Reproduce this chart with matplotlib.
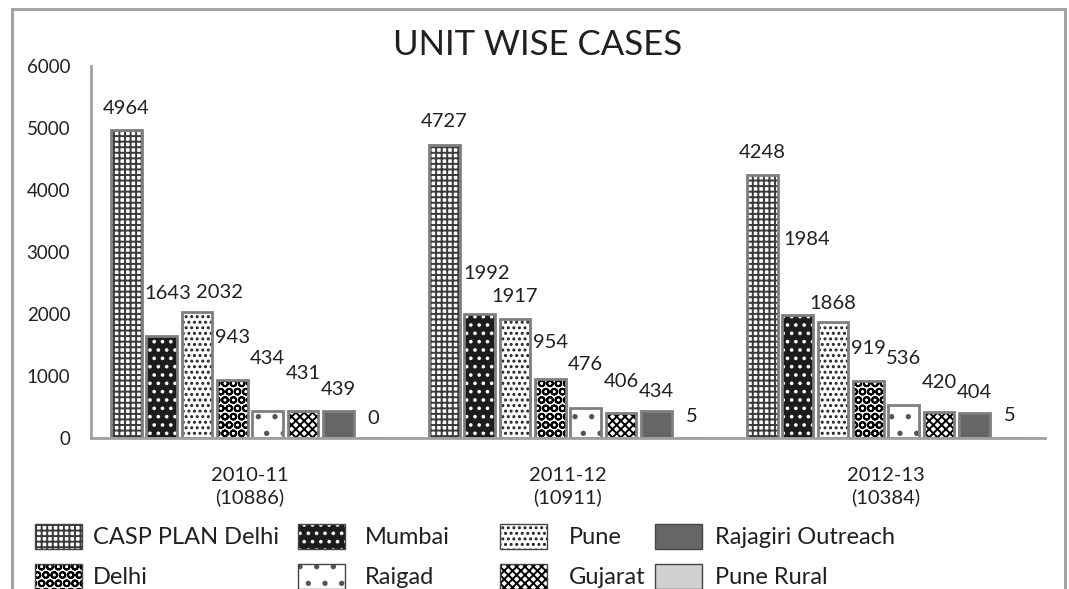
import numpy as np
import matplotlib
matplotlib.use("Agg")
import matplotlib.pyplot as plt
import matplotlib.patches as mpatches
from matplotlib.legend_handler import HandlerTuple

plt.rcParams['font.family'] = ['Lato', 'DejaVu Sans']
plt.rcParams['hatch.linewidth'] = 1.4

years = ['2010-11\n(10886)', '2011-12\n(10911)', '2012-13\n(10384)']
series = ['CASP PLAN Delhi', 'Mumbai', 'Pune', 'Delhi', 'Raigad', 'Gujarat',
          'Rajagiri Outreach', 'Pune Rural']

casp_plan_delhi = [4964, 4727, 4248]
mumbai = [1643, 1992, 1984]
pune = [2032, 1917, 1868]
delhi = [943, 954, 919]
raigad = [434, 476, 536]
gujarat = [431, 406, 420]
rajagiri = [439, 434, 404]
pune_rural = [0, 5, 5]

values = [casp_plan_delhi, mumbai, pune, delhi, raigad, gujarat, rajagiri, pune_rural]

# fill colour, hatch colour, hatch pattern
styles = [
    ('white', '#3a3a3a', '+++'),
    ('#1c1c1c', 'white', '..'),
    ('white', '#222222', '...'),
    ('white', 'black', 'OO'),
    ('white', '#555555', '.'),
    ('white', 'black', 'xxxx'),
    ('#666666', '#666666', None),
    ('#d0d1d3', '#d0d1d3', None),
]

# label placement (pixels above bar top, pixels right of bar centre)
label_dy = [[22, 43, 20, 42, 53, 38, 21, 20],
            [23, 41, 23, 36, 44, 31, 20, 21],
            [22, 75, 19, 33, 46, 29, 20, 22]]
label_dx = [[0, 6, 22, 0, 0, 0, 0, 0],
            [0, 7, 0, 0, 0, 0, 0, 0],
            [0, 9, 0, 0, 0, 0, 0, 0]]

W, H = 1069, 589
fig = plt.figure(figsize=(W / 100, H / 100), dpi=100)
ax = fig.add_axes([91 / W, 1 - 438 / H, (1045 - 91) / W, (438 - 66) / H])

txt = '#231f20'
edge = '#7f7f7f'
x = np.arange(len(years))
pitch = 0.111
bw = 0.097

handles = []
for i, (name, vals) in enumerate(zip(series, values)):
    fc, hc, hatch = styles[i]
    xs = x + (i - 3.5) * pitch
    ax.bar(xs, vals, bw, color=fc, edgecolor=hc, hatch=hatch, linewidth=0)
    ax.bar(xs, vals, bw, fill=False, edgecolor=edge, linewidth=2)
    for j, v in enumerate(vals):
        ax.annotate(str(v), (xs[j], v), xytext=(label_dx[j][i], label_dy[j][i]),
                    textcoords='offset pixels', ha='center', va='center',
                    fontsize=14.5, color=txt)
    p1 = mpatches.Patch(facecolor=fc, edgecolor=hc, hatch=hatch, linewidth=0)
    p2 = mpatches.Patch(fill=False, edgecolor='#444444', linewidth=1)
    handles.append((p1, p2))

ax.set_xlim(-0.5, 2.5)
ax.set_ylim(0, 6000)
ax.set_yticks(np.arange(0, 6001, 1000))
ax.set_xticks(x)
ax.set_xticklabels(years, linespacing=1.3)
ax.tick_params(axis='both', length=0, colors=txt, labelsize=13.5)
ax.tick_params(axis='y', pad=15)
ax.tick_params(axis='x', pad=21, labelsize=14.5)
for s in ['top', 'right']:
    ax.spines[s].set_visible(False)
for s in ['left', 'bottom']:
    ax.spines[s].set_color('#a0a0a0')
    ax.spines[s].set_linewidth(2)

fig.text(0.503, 1 - 55 / H, 'UNIT WISE CASES', ha='center', va='baseline',
         fontsize=25, color=txt)

# legend, one column at a time
cols = [(35, [0, 3], 0.45), (298, [1, 4], 0.85), (500, [2, 5], 0.9), (655, [6, 7], 0.55)]
for left, idx, pad in cols:
    lg = fig.legend([handles[k] for k in idx], [series[k] for k in idx],
                    handler_map={tuple: HandlerTuple(ndivide=1)},
                    loc='upper left', bbox_to_anchor=(left / W, 1 - 524 / H),
                    frameon=False, fontsize=17, handlelength=2.0, handleheight=1.25,
                    handletextpad=pad, labelspacing=0.62, borderpad=0,
                    borderaxespad=0)
    for t in lg.get_texts():
        t.set_color(txt)

# outer frame
fig.add_artist(mpatches.Rectangle((12 / W, -0.05), (1065 - 12) / W, 1.05 - 9 / H,
                                  transform=fig.transFigure, fill=False,
                                  edgecolor='#a3a3a3', linewidth=2.2))

fig.savefig('out.png', dpi=100)
